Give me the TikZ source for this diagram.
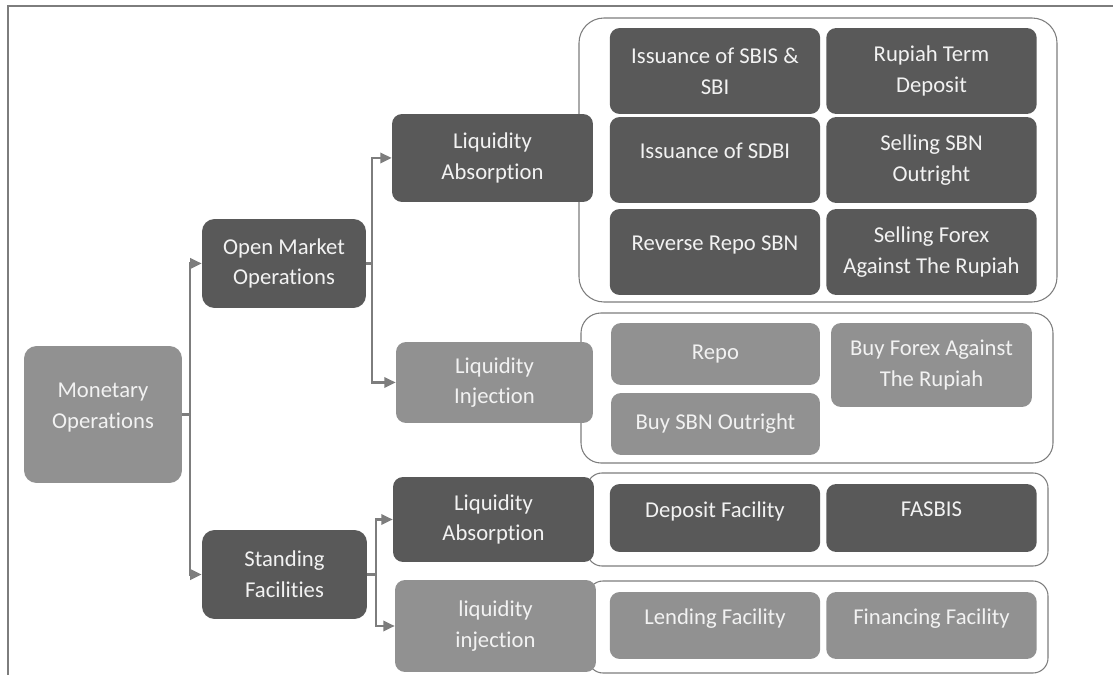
\documentclass[tikz,border=0pt]{standalone}
\usepackage{fontspec}
\setmainfont{Carlito}[Ligatures=NoCommon]
\usetikzlibrary{arrows.meta}
\definecolor{boxdark}{RGB}{89,89,89}
\definecolor{boxmid}{RGB}{145,145,145}
\definecolor{linegray}{RGB}{125,125,125}
\definecolor{textwhite}{RGB}{242,242,242}

\begin{document}
\begin{tikzpicture}[x=0.02cm,y=-0.02cm,
	font=\fontsize{12.9}{17.5}\selectfont,
	box/.style={rounded corners=0.2cm,text=textwhite,align=center,inner sep=2pt},
	dark/.style={box,fill=boxdark},
	mid/.style={box,fill=boxmid},
	group/.style={draw=linegray,line width=0.6pt,fill=white},
	conn/.style={draw=linegray,line width=1.3pt},
	arr/.style={conn,-{Triangle[length=6.5pt,width=6pt]}},
	raised/.style={text depth=10pt}]
	\useasboundingbox (0,0) rectangle (1113,675);
	% frame
	\draw[linegray,line width=0.8pt] (8,675) -- (8,6) -- (1113,6);

	% groups
	\draw[group,rounded corners=0.5cm] (579,18) rectangle (1057,302);
	\draw[group,rounded corners=0.4cm] (581,313) rectangle (1053,463);
	\draw[group,rounded corners=0.3cm] (587,473) rectangle (1048,566);
	\draw[group,rounded corners=0.3cm] (588,581) rectangle (1048,673);

	% main tree
	\node[mid,raised,rounded corners=0.25cm,minimum width=3.16cm,minimum height=2.74cm] (mon) at (103,414.5) {Monetary\\Operations};
	\node[dark,rounded corners=0.25cm,minimum width=3.28cm,minimum height=1.78cm] (omo) at (284,263.5) {Open Market\\Operations};
	\node[dark,rounded corners=0.25cm,minimum width=3.3cm,minimum height=1.78cm] (sf) at (284.5,574.5) {Standing\\Facilities};
	\node[dark,minimum width=4.02cm,minimum height=1.76cm] (omoabs) at (492.5,158) {Liquidity\\Absorption};
	\node[mid,minimum width=3.94cm,minimum height=1.62cm] (omoinj) at (494.5,382.5) {Liquidity\\Injection};
	\node[dark,minimum width=4.02cm,minimum height=1.7cm] (sfabs) at (493.5,519.5) {Liquidity\\Absorption};
	\node[mid,minimum width=4.02cm,minimum height=1.84cm] (sfinj) at (495.5,626) {liquidity\\injection};

	% absorption instruments
	\foreach \n/\x/\y/\s/\t in {
		a1/715/71/{}/{Issuance of SBIS \&\\SBI},
		a2/931.5/71/{}/{Rupiah Term\\Deposit},
		a3/715/160/raised/{Issuance of SDBI},
		a4/931.5/160/{}/{Selling SBN\\Outright},
		a5/715/252/raised/{Reverse Repo SBN},
		a6/931.5/252/{}/{Selling Forex\\Against The Rupiah}}
		\node[dark,\s,minimum width=4.21cm,minimum height=1.72cm] (\n) at (\x,\y) {\t};

	% injection instruments
	\node[mid,minimum width=4.18cm,minimum height=1.24cm] (b1) at (715.5,354) {Repo};
	\node[mid,minimum width=4.02cm,minimum height=1.68cm] (b2) at (931.5,365) {Buy Forex Against\\The Rupiah};
	\node[mid,minimum width=4.18cm,minimum height=1.24cm] (b3) at (715.5,424) {Buy SBN Outright};

	% standing facilities
	\node[dark,raised,minimum width=4.21cm,minimum height=1.36cm] (c1) at (715,518) {Deposit Facility};
	\node[dark,raised,minimum width=4.21cm,minimum height=1.36cm] (c2) at (931.5,518) {FASBIS};
	\node[mid,raised,minimum width=4.21cm,minimum height=1.34cm] (d1) at (715,625.5) {Lending Facility};
	\node[mid,raised,minimum width=4.21cm,minimum height=1.34cm] (d2) at (931.5,625.5) {Financing Facility};

	% connectors
	\draw[conn] (mon.east) -- ++(8,0) coordinate (jmon);
	\draw[arr] (jmon) |- (omo.west);
	\draw[arr] (jmon) |- (sf.west);
	\draw[conn] (omo.east) -- ++(6,0) coordinate (jomo);
	\draw[arr] (jomo) |- (omoabs.west);
	\draw[arr] (jomo) |- (omoinj.west);
	\draw[conn] (sf.east) -- ++(9,0) coordinate (jsf);
	\draw[arr] (jsf) |- (sfabs.west);
	\draw[arr] (jsf) |- (sfinj.west);
\end{tikzpicture}
\end{document}
